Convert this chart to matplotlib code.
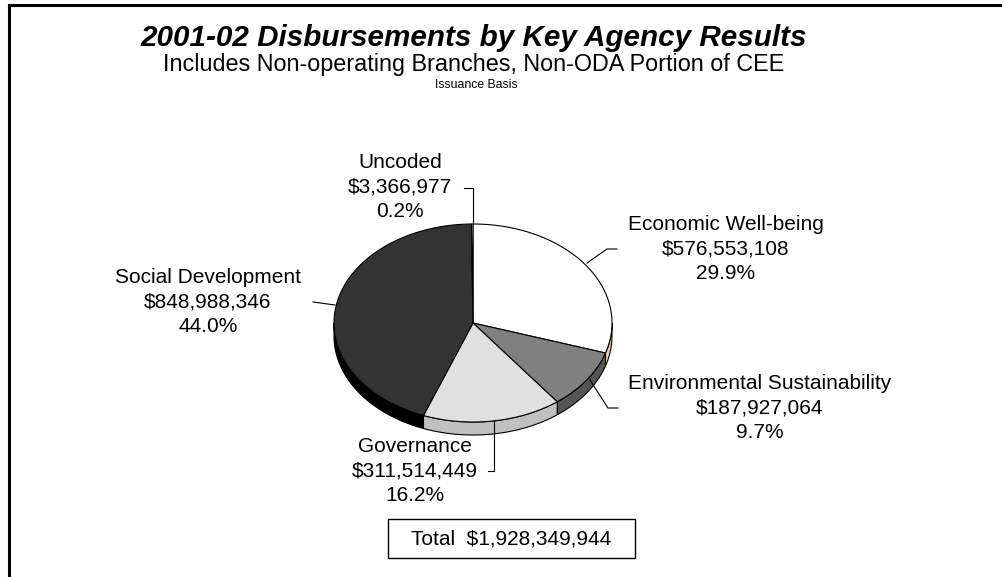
import numpy as np
import matplotlib
matplotlib.use("Agg")
import matplotlib.pyplot as plt
from matplotlib.patches import Polygon, Rectangle

# ---- data ----
categories = ["Economic Well-being", "Environmental Sustainability", "Governance",
              "Social Development", "Uncoded"]
amounts = [576553108, 187927064, 311514449, 848988346, 3366977]
percent_labels = ["29.9%", "9.7%", "16.2%", "44.0%", "0.2%"]
total_label = "Total  $1,928,349,944"
top_colors = ["#FFFFFF", "#808080", "#E0E0E0", "#333333", "#FFFFFF"]
side_colors = ["#F4C2B8", "#555555", "#C0C0C0", "#000000", "#DDDDDD"]

title = "2001-02 Disbursements by Key Agency Results"
subtitle = "Includes Non-operating Branches, Non-ODA Portion of CEE"
subsubtitle = "Issuance Basis"

plt.rcParams['font.family'] = ['Liberation Sans', 'DejaVu Sans']

W, H = 1003, 577
fig = plt.figure(figsize=(W / 100, H / 100), dpi=100)
ax = fig.add_axes([0, 0, 1, 1])
ax.set_xlim(0, W)
ax.set_ylim(H, 0)
ax.axis("off")

# border (left & top visible)
ax.plot([9, 9], [H + 5, 5], color="black", lw=2.2, solid_capstyle="projecting")
ax.plot([9, W + 5], [5, 5], color="black", lw=2.2, solid_capstyle="projecting")

# titles
ax.text(474, 38, title, ha="center", va="center", fontsize=21.3, fontweight="bold",
        fontstyle="italic")
ax.text(474, 64, subtitle, ha="center", va="center", fontsize=16.8)
ax.text(476, 85, subsubtitle, ha="center", va="center", fontsize=8.8)

# ---- 3D pie geometry ----
cx, cy, a, b, depth = 473, 323, 139, 99, 13
vals = np.array(amounts, dtype=float)
fr = vals / vals.sum()
ends = 90 - 360 * np.cumsum(fr)
starts = np.concatenate([[90], ends[:-1]])


def arc(t1, t2, dy=0.0):
    ts = np.linspace(t1, t2, max(2, int(abs(t1 - t2)) + 2))
    t = np.radians(ts)
    return np.column_stack([cx + a * np.cos(t), cy - b * np.sin(t) + dy])


# side walls (front half: theta in [-180, 0])
for s, e, col in zip(starts, ends, side_colors):
    lo, hi = max(e, -180), min(s, 0)
    if hi > lo:
        top = arc(hi, lo)
        bot = arc(lo, hi, dy=depth)
        ax.add_patch(Polygon(np.vstack([top, bot]), closed=True, facecolor=col,
                             edgecolor="black", lw=0.8, zorder=2))

# top faces
for s, e, col in zip(starts, ends, top_colors):
    pts = np.vstack([[cx, cy], arc(s, e)])
    ax.add_patch(Polygon(pts, closed=True, facecolor=col, edgecolor="black",
                         lw=0.8, zorder=3))

# ---- labels & leader lines ----
def fmt(v):
    return "${:,}".format(v)

label_pos = [(726, 249), (760, 408), (415, 471), (208, 302), (400, 187)]
leaders = [
    [(587, 263), (607, 249), (617, 249)],
    [(590, 380), (608, 408), (618, 408)],
    [(494, 420), (494, 471), (488, 471)],
    [(335, 305), (313, 302)],
    [(473, 224), (473, 188), (464, 188)],
]
for name, v, p, (lx, ly), ld in zip(categories, amounts, percent_labels,
                                    label_pos, leaders):
    ax.text(lx, ly, f"{name}\n{fmt(v)}\n{p}", ha="center", va="center",
            fontsize=15, linespacing=1.37, zorder=5)
    xs, ys = zip(*ld)
    ax.plot(xs, ys, color="black", lw=0.8, zorder=4)

# total box
ax.add_patch(Rectangle((388, 519), 247, 39, facecolor="white", edgecolor="black",
                       lw=1.0, zorder=4))
ax.text(511.5, 539, total_label, ha="center", va="center", fontsize=15, zorder=5)

fig.savefig("out.png", dpi=100)
